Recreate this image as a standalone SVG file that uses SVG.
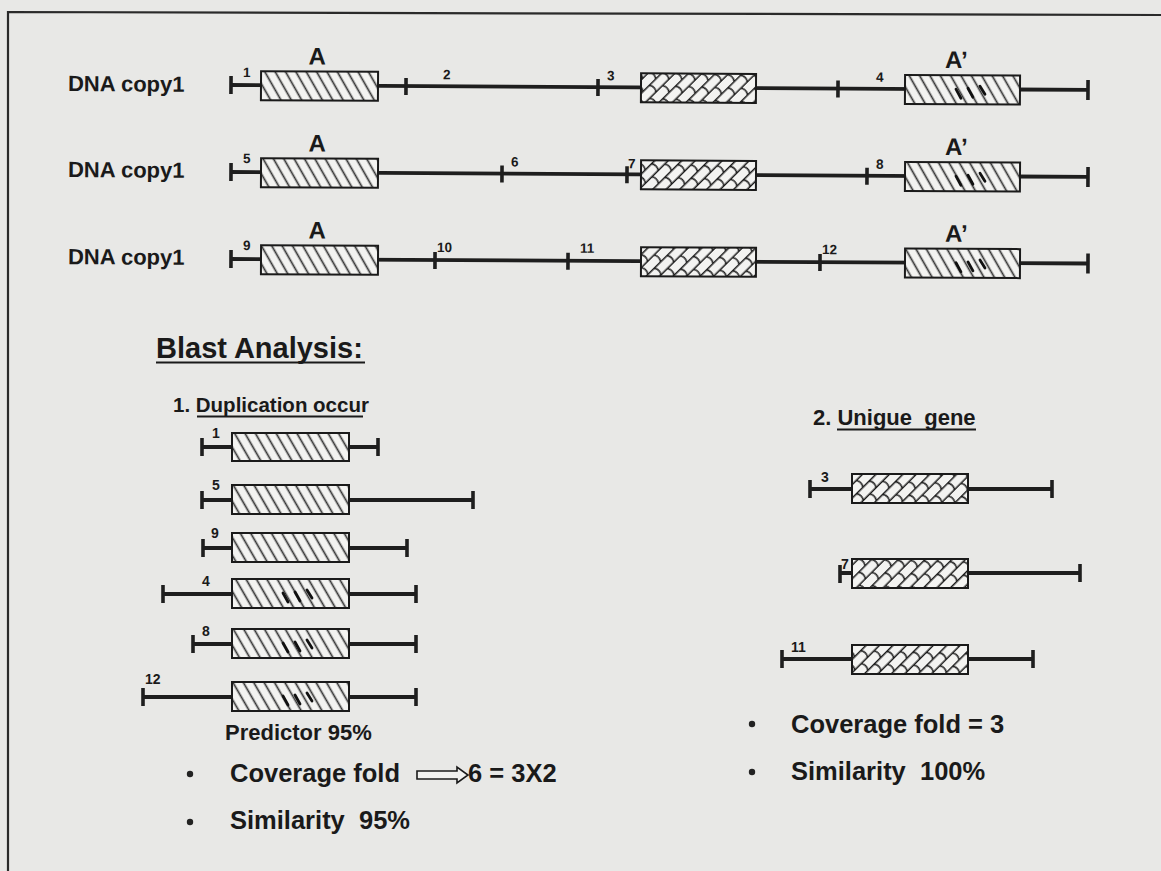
<svg xmlns="http://www.w3.org/2000/svg" xmlns:xlink="http://www.w3.org/1999/xlink" width="1161" height="871" viewBox="0 0 1161 871">
<defs>
<pattern id="hatch" patternUnits="userSpaceOnUse" width="9" height="9" patternTransform="rotate(-30)">
<rect width="9" height="9" fill="#f3f3f1"/>
<line x1="4.5" y1="0" x2="4.5" y2="9" stroke="#333" stroke-width="1.7"/>
</pattern>
<pattern id="brick" patternUnits="userSpaceOnUse" width="18" height="19" patternTransform="rotate(-45)">
<rect width="18" height="19" fill="#f3f3f1"/>
<path d="M0,4.75H18M0,14.25H18M4.5,4.75Q8,9.5 4.5,14.25M13.5,14.25Q15.5,16.5 15.3,19M15.3,0Q15.3,2.5 13.5,4.75" stroke="#1a1a1a" stroke-width="1.5" fill="none"/>
</pattern>
<path id="bold" d="M51,14 l5,9 M63,13 l5,9 M75,11 l5,8" stroke="#111" stroke-width="2.8" stroke-linecap="round" fill="none"/>
</defs>
<style>
.seq{stroke:#1e1e1e;stroke-width:3.8;fill:none}
.tk{stroke:#1e1e1e;stroke-width:3.6}
.bA{fill:url(#hatch);stroke:#1a1a1a;stroke-width:2}
.bB{fill:url(#brick);stroke:#1a1a1a;stroke-width:2}
text{font-family:"Liberation Sans",Arial,sans-serif;font-weight:bold;fill:#1a1a1a;white-space:pre}
.lab{font-size:22px}
.big{font-size:24px}
.num{font-size:13.5px}
.n2{font-size:14px}
.body{font-size:25.5px}
.ul{stroke:#1a1a1a;stroke-width:2}
</style>
<rect width="1161" height="871" fill="#e8e8e6"/>
<g id="frame" stroke="#2a2a2a" stroke-width="2.2" fill="none">
<path d="M8,871 V12 L1161,15"/>
</g>

<g id="row1" transform="rotate(0.33 231 85)">
<text class="lab" x="68" y="92">DNA copy1</text>
<path class="seq" d="M231,85H1088"/>
<path class="tk" d="M231,76V94M406,77V94M598,77V94M838,77V94M1088,75V95"/>
<rect class="bA" x="261" y="71" width="117" height="29"/>
<rect class="bB" x="641" y="71" width="115" height="29"/>
<rect class="bA" x="905" y="71" width="115" height="29"/>
<use xlink:href="#bold" x="905" y="71"/>
<text class="big" x="317" y="64" text-anchor="middle">A</text>
<text class="big" x="945" y="64">A’</text>
<text class="num" x="243" y="77">1</text>
<text class="num" x="443" y="78">2</text>
<text class="num" x="607" y="78">3</text>
<text class="num" x="876" y="78">4</text>
</g>

<g id="row2" transform="rotate(0.33 231 172)">
<text class="lab" x="68" y="178">DNA copy1</text>
<path class="seq" d="M231,172H1088"/>
<path class="tk" d="M231,163V181M502,164V181M627,164V181M867,164V181M1088,162V182"/>
<rect class="bA" x="261" y="158" width="117" height="29"/>
<rect class="bB" x="641" y="158" width="115" height="29"/>
<rect class="bA" x="905" y="158" width="115" height="29"/>
<use xlink:href="#bold" x="905" y="158"/>
<text class="big" x="317" y="151" text-anchor="middle">A</text>
<text class="big" x="945" y="151">A’</text>
<text class="num" x="243" y="163">5</text>
<text class="num" x="511" y="165">6</text>
<text class="num" x="628" y="166">7</text>
<text class="num" x="876" y="165">8</text>
</g>

<g id="row3" transform="rotate(0.3 231 259)">
<text class="lab" x="68" y="265">DNA copy1</text>
<path class="seq" d="M231,259H1088"/>
<path class="tk" d="M231,250V268M435,251V268M568,251V268M820,251V268M1088,249V269"/>
<rect class="bA" x="261" y="245" width="117" height="29"/>
<rect class="bB" x="641" y="245" width="115" height="29"/>
<rect class="bA" x="905" y="245" width="115" height="29"/>
<use xlink:href="#bold" x="905" y="245"/>
<text class="big" x="317" y="238" text-anchor="middle">A</text>
<text class="big" x="945" y="238">A’</text>
<text class="num" x="243" y="250">9</text>
<text class="num" x="437" y="251">10</text>
<text class="num" x="580" y="251">11</text>
<text class="num" x="822" y="251">12</text>
</g>

<g id="headings">
<text x="156" y="358" style="font-size:29px">Blast Analysis:</text>
<line class="ul" x1="156" y1="362.5" x2="365" y2="362.5"/>
<text x="173" y="412" style="font-size:20.5px">1. Duplication occur</text>
<line class="ul" x1="197" y1="416.5" x2="363" y2="416.5"/>
<text x="813" y="425" style="font-size:22px">2. Unigue  gene</text>
<line class="ul" x1="837" y1="429.5" x2="976" y2="429.5"/>
</g>

<g id="dup1">
<path class="seq" d="M202,447H378"/><path class="tk" d="M202,438V456M378,438V456"/>
<rect class="bA" x="232" y="433" width="117" height="28"/>
<text class="n2" x="212" y="438">1</text>
</g>
<g id="dup5">
<path class="seq" d="M202,500H473"/><path class="tk" d="M202,491V509M473,491V509"/>
<rect class="bA" x="232" y="485" width="117" height="29"/>
<text class="n2" x="212" y="490">5</text>
</g>
<g id="dup9">
<path class="seq" d="M203,548H407"/><path class="tk" d="M203,539V557M407,539V557"/>
<rect class="bA" x="232" y="533" width="117" height="29"/>
<text class="n2" x="211" y="538">9</text>
</g>
<g id="dup4">
<path class="seq" d="M163,594H416"/><path class="tk" d="M163,585V603M416,585V603"/>
<rect class="bA" x="232" y="579" width="117" height="29"/>
<use xlink:href="#bold" x="232" y="579"/>
<text class="n2" x="202" y="586">4</text>
</g>
<g id="dup8">
<path class="seq" d="M193,644H416"/><path class="tk" d="M193,635V653M416,635V653"/>
<rect class="bA" x="232" y="629" width="117" height="29"/>
<use xlink:href="#bold" x="232" y="629"/>
<text class="n2" x="202" y="636">8</text>
</g>
<g id="dup12">
<path class="seq" d="M143,697H416"/><path class="tk" d="M143,688V706M416,688V706"/>
<rect class="bA" x="232" y="682" width="117" height="29"/>
<use xlink:href="#bold" x="232" y="682"/>
<text class="n2" x="145" y="684">12</text>
</g>

<g id="uniq3">
<path class="seq" d="M810,489H1052"/><path class="tk" d="M810,480V498M1052,480V498"/>
<rect class="bB" x="852" y="474" width="116" height="29"/>
<text class="n2" x="821" y="482">3</text>
</g>
<g id="uniq7">
<path class="seq" d="M840,573H1080"/><path class="tk" d="M840,565V583M1080,564V582"/>
<rect class="bB" x="852" y="559" width="116" height="29"/>
<text class="n2" x="841" y="569">7</text>
</g>
<g id="uniq11">
<path class="seq" d="M782,659H1033"/><path class="tk" d="M782,650V668M1033,650V668"/>
<rect class="bB" x="852" y="645" width="116" height="29"/>
<text class="n2" x="791" y="652">11</text>
</g>

<g id="summary-left">
<text x="225" y="740" style="font-size:22px">Predictor 95%</text>
<circle cx="190" cy="774" r="3.2" fill="#222"/>
<text class="body" x="230" y="782">Coverage fold</text>
<text class="body" x="468" y="782">6 = 3X2</text>
<circle cx="190" cy="822" r="3.2" fill="#222"/>
<text class="body" x="230" y="829">Similarity  95%</text>
</g>

<g id="summary-right">
<circle cx="752" cy="724" r="3.2" fill="#222"/>
<text class="body" x="791" y="733">Coverage fold = 3</text>
<circle cx="752" cy="772" r="3.2" fill="#222"/>
<text class="body" x="791" y="780">Similarity  100%</text>
</g>

<g id="connectors">
<path d="M417,771H457V767L468,775L457,783V779H417Z" fill="#f1f1ef" stroke="#1a1a1a" stroke-width="1.6" stroke-linejoin="miter"/>
</g>
</svg>
